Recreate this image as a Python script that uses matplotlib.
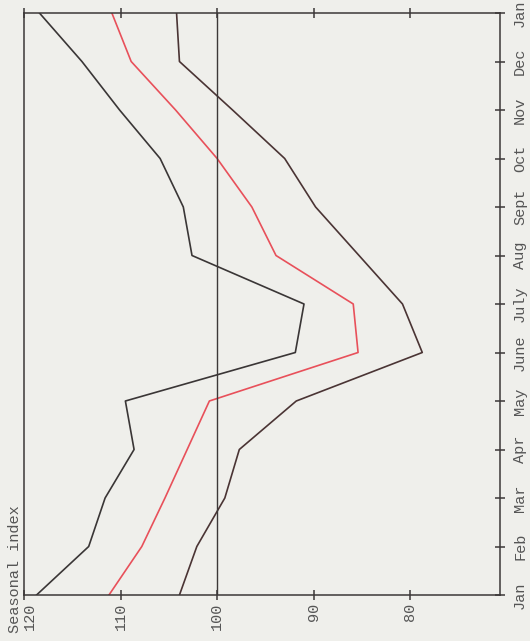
import numpy as np
import matplotlib
matplotlib.use("Agg")
import matplotlib.pyplot as plt
import matplotlib.transforms as mtransforms

months = ["Jan", "Feb", "Mar", "Apr", "May", "June", "July", "Aug", "Sept", "Oct", "Nov", "Dec", "Jan"]
high = [118.7, 113.3, 111.6, 108.6, 109.5, 91.9, 91.0, 102.6, 103.5, 105.9, 110.1, 114.0, 118.4]
mid = [111.2, 107.8, 105.4, 103.1, 100.8, 85.4, 85.9, 93.9, 96.4, 100.0, 104.3, 108.9, 110.9]
low = [103.9, 102.1, 99.2, 97.7, 91.8, 78.75, 80.8, 85.3, 89.8, 93.0, 98.4, 103.9, 104.2]
index_ticks = [120, 110, 100, 90, 80]
reference = 100

bg = "#efefeb"
ink = "#3c3838"
font = ["Liberation Mono", "DejaVu Sans Mono"]

fig = plt.figure(figsize=(5.30, 6.41), dpi=100, facecolor=bg)
ax = fig.add_axes([24/530, 1 - 595/641, 476/530, 582/641])
ax.set_facecolor(bg)

pos = np.arange(len(months))
ax.plot(high, pos, color="#3a3636", lw=1.2)
ax.plot(mid, pos, color="#e8505a", lw=1.2)
ax.plot(low, pos, color="#4a3434", lw=1.2)
ax.axvline(reference, color=ink, lw=1.0)

ax.set_xlim(120, 70.7)
ax.set_ylim(0, len(months) - 1)

for s in ax.spines.values():
    s.set_color(ink)
    s.set_linewidth(1.1)

ax.set_xticks(index_ticks)
ax.set_xticklabels([str(t) for t in index_ticks], rotation=90, family=font,
                   fontsize=11, color="#555555")
ax.tick_params(axis="x", direction="inout", length=7, width=1.1, color=ink,
               top=True, bottom=True, pad=2)
# first index label sits a little right of the corner
first = ax.get_xticklabels()[0]
first.set_transform(first.get_transform() +
                    mtransforms.ScaledTranslation(6/100, 0, fig.dpi_scale_trans))

ax.yaxis.tick_right()
ax.set_yticks(pos)
ax.set_yticklabels(months, rotation=90, family=font, fontsize=11,
                   color="#555555", va="center")
ax.tick_params(axis="y", direction="inout", length=7, width=1.1, color=ink,
               left=False, right=True, pad=6)

fig.text(15/530, 1 - 633/641, "Seasonal index", rotation=90, ha="center",
         va="bottom", family=font, fontsize=11, color="#555555")

fig.savefig("out.png", dpi=100, facecolor=bg)
